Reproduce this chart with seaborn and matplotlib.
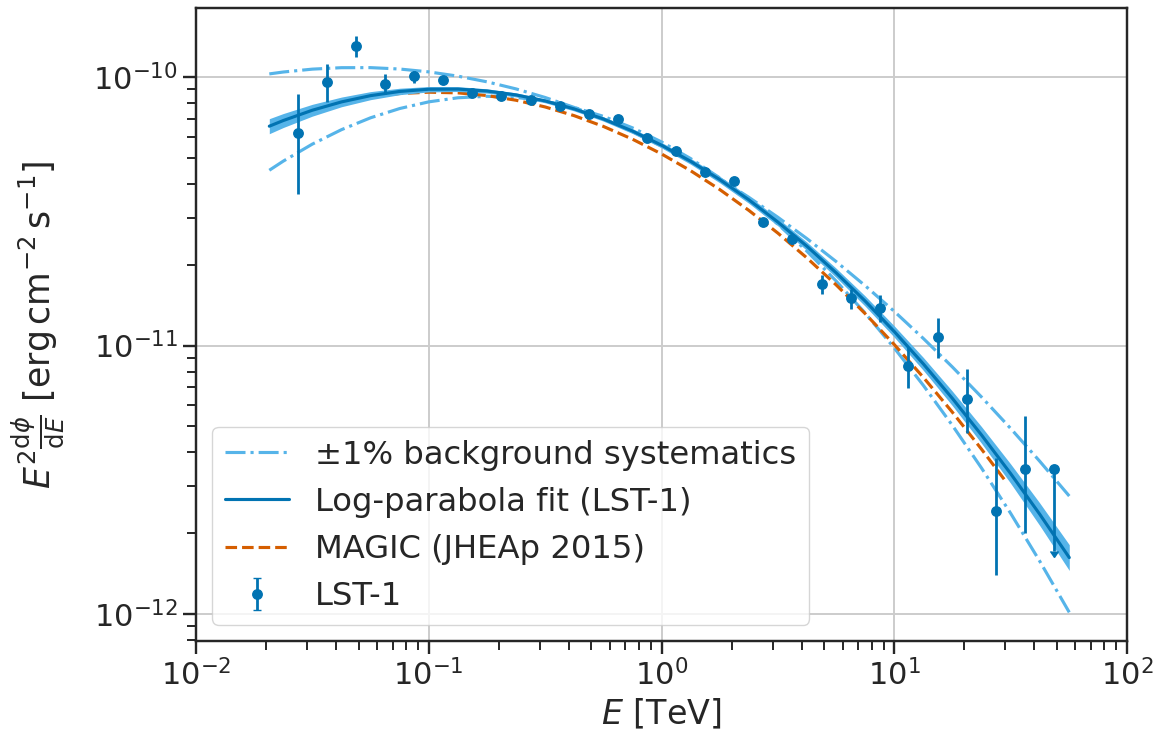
import matplotlib
matplotlib.use("Agg")
import matplotlib.pyplot as plt
import seaborn as sns
import numpy as np

# ---------------- data ----------------
# LST-1 flux points (E in TeV, E^2 dN/dE in erg cm^-2 s^-1)
energy = [0.0274, 0.0365, 0.0487, 0.0649, 0.0866, 0.115, 0.154, 0.205, 0.274,
          0.365, 0.487, 0.649, 0.866, 1.15, 1.54, 2.05, 2.74, 3.65, 4.87,
          6.49, 8.66, 11.5, 15.4, 20.5, 27.4, 36.5, 48.7]
flux = [6.17e-11, 9.56e-11, 1.304e-10, 9.44e-11, 1.006e-10, 9.75e-11, 8.70e-11,
        8.50e-11, 8.19e-11, 7.82e-11, 7.28e-11, 6.98e-11, 5.91e-11, 5.31e-11,
        4.43e-11, 4.10e-11, 2.88e-11, 2.49e-11, 1.69e-11, 1.51e-11, 1.376e-11,
        8.39e-12, 1.073e-11, 6.32e-12, 2.42e-12, 3.46e-12, 3.47e-12]
flux_low = [3.67e-11, 8.09e-11, 1.19e-10, 8.64e-11, 9.52e-11, 9.45e-11, 8.55e-11,
            8.40e-11, 8.10e-11, 7.74e-11, 7.20e-11, 6.88e-11, 5.82e-11, 5.21e-11,
            4.33e-11, 3.99e-11, 2.80e-11, 2.40e-11, 1.56e-11, 1.37e-11, 1.227e-11,
            6.93e-12, 8.96e-12, 4.71e-12, 1.40e-12, 2.01e-12, 1.72e-12]
flux_high = [8.64e-11, 1.115e-10, 1.42e-10, 1.03e-10, 1.056e-10, 1.005e-10, 8.85e-11,
             8.60e-11, 8.28e-11, 7.90e-11, 7.36e-11, 7.08e-11, 6.00e-11, 5.41e-11,
             4.53e-11, 4.21e-11, 2.96e-11, 2.58e-11, 1.83e-11, 1.62e-11, 1.54e-11,
             9.90e-12, 1.262e-11, 8.15e-12, 3.80e-12, 5.46e-12, 3.47e-12]
upper_limit = [False] * 26 + [True]

curve_energy = [0.02065, 0.02371, 0.03162, 0.04217, 0.05623, 0.07499, 0.1, 0.1334,
                0.1778, 0.2371, 0.3162, 0.4217, 0.5623, 0.7499, 1.0, 1.334, 1.778,
                2.371, 3.162, 4.217, 5.623, 7.499, 10.0, 13.34, 17.78, 23.71,
                31.62, 42.17, 56.49]
fit_flux = [6.566e-11, 6.893e-11, 7.531e-11, 8.087e-11, 8.534e-11, 8.846e-11,
            9.016e-11, 9.028e-11, 8.882e-11, 8.588e-11, 8.157e-11, 7.615e-11,
            6.987e-11, 6.300e-11, 5.580e-11, 4.859e-11, 4.156e-11, 3.494e-11,
            2.885e-11, 2.343e-11, 1.868e-11, 1.465e-11, 1.128e-11, 8.540e-12,
            6.352e-12, 4.643e-12, 3.334e-12, 2.353e-12, 1.622e-12]
band_halfwidth_dex = [0.028, 0.026, 0.022, 0.018, 0.015, 0.012, 0.010, 0.009,
                      0.008, 0.0075, 0.007, 0.0075, 0.008, 0.009, 0.010, 0.011,
                      0.012, 0.013, 0.014, 0.0155, 0.017, 0.019, 0.021, 0.024,
                      0.027, 0.031, 0.036, 0.042, 0.048]
sys_plus = [1.0283e-10, 1.0452e-10, 1.0713e-10, 1.0847e-10, 1.0852e-10, 1.0723e-10,
            1.0464e-10, 1.0088e-10, 9.609e-11, 9.042e-11, 8.401e-11, 7.713e-11,
            6.995e-11, 6.265e-11, 5.543e-11, 4.846e-11, 4.184e-11, 3.569e-11,
            3.006e-11, 2.502e-11, 2.057e-11, 1.671e-11, 1.341e-11, 1.0624e-11,
            8.318e-12, 6.431e-12, 4.912e-12, 3.707e-12, 2.750e-12]
sys_minus = [4.499e-11, 4.866e-11, 5.632e-11, 6.374e-11, 7.057e-11, 7.640e-11,
             8.091e-11, 8.379e-11, 8.486e-11, 8.406e-11, 8.142e-11, 7.713e-11,
             7.147e-11, 6.476e-11, 5.738e-11, 4.974e-11, 4.216e-11, 3.494e-11,
             2.832e-11, 2.246e-11, 1.741e-11, 1.321e-11, 9.795e-12, 7.103e-12,
             5.039e-12, 3.496e-12, 2.372e-12, 1.573e-12, 1.014e-12]
magic_energy = [0.05, 0.05623, 0.07499, 0.1, 0.1334, 0.1778, 0.2371, 0.3162,
                0.4217, 0.5623, 0.7499, 1.0, 1.334, 1.778, 2.371, 3.162, 4.217,
                5.623, 7.499, 10.0, 13.34, 17.78, 23.71, 30.0]
magic_flux = [8.304e-11, 8.443e-11, 8.690e-11, 8.790e-11, 8.740e-11, 8.541e-11,
              8.204e-11, 7.745e-11, 7.186e-11, 6.555e-11, 5.875e-11, 5.176e-11,
              4.481e-11, 3.815e-11, 3.190e-11, 2.624e-11, 2.120e-11, 1.684e-11,
              1.315e-11, 1.009e-11, 7.610e-12, 5.642e-12, 4.111e-12, 3.134e-12]

labels = ["±1% background systematics", "Log-parabola fit (LST-1)",
          "MAGIC (JHEAp 2015)", "LST-1"]
x_ticks = [1e-2, 1e-1, 1e0, 1e1, 1e2]
y_ticks = [1e-12, 1e-11, 1e-10]

# ---------------- styling ----------------
sns.set_theme(style="ticks")
plt.rcParams["font.family"] = ["DejaVu Sans"]
plt.rcParams["mathtext.fontset"] = "dejavusans"
plt.rcParams.update({
    "axes.edgecolor": "0.15",
    "axes.linewidth": 1.75,
    "text.color": "0.15",
    "axes.labelcolor": "0.15",
    "xtick.color": "0.15",
    "ytick.color": "0.15",
    "xtick.major.size": 9.4, "ytick.major.size": 9.4,
    "xtick.minor.size": 6.6, "ytick.minor.size": 6.6,
    "xtick.major.width": 1.7, "ytick.major.width": 1.7,
    "xtick.minor.width": 1.4, "ytick.minor.width": 1.4,
    "xtick.labelsize": 22, "ytick.labelsize": 22,
    "axes.labelsize": 24,
    "legend.fontsize": 23.2,
})

pal = sns.color_palette("colorblind")
c_dark, c_orange, c_light = pal[0], pal[3], pal[9]

fig, ax = plt.subplots(figsize=(11.53, 7.45), dpi=100)
fig.subplots_adjust(left=0.1700, right=0.97745, bottom=0.1396, top=0.98926)
ax.set_xscale("log")
ax.set_yscale("log")

sns.lineplot(x=curve_energy, y=sys_plus, ax=ax, color=c_light, lw=2.25,
             linestyle="-.", estimator=None, sort=False, label=labels[0], zorder=2)
sns.lineplot(x=curve_energy, y=sys_minus, ax=ax, color=c_light, lw=2.25,
             linestyle="-.", estimator=None, sort=False, label="_nolegend_", zorder=2)
sns.lineplot(x=magic_energy, y=magic_flux, ax=ax, color=c_orange, lw=2.25,
             linestyle="--", estimator=None, sort=False, label=labels[2], zorder=2.2)

fit_arr = np.array(fit_flux)
hw = np.array(band_halfwidth_dex)
ax.fill_between(curve_energy, fit_arr * 10 ** (-hw), fit_arr * 10 ** hw,
                color=c_light, lw=0, zorder=2.5)
sns.lineplot(x=curve_energy, y=fit_flux, ax=ax, color=c_dark, lw=2.25,
             linestyle="-", estimator=None, sort=False, label=labels[1], zorder=3)

flux_arr = np.array(flux)
yerr = [flux_arr - np.array(flux_low), np.array(flux_high) - flux_arr]
ax.errorbar(energy, flux, yerr=yerr, uplims=upper_limit, fmt="o",
            color=c_dark, ms=6.8, elinewidth=2.0, capsize=0,
            label=labels[3], zorder=4)

ax.set_xlim(1e-2, 1e2)
ax.set_ylim(7.93e-13, 1.81e-10)
ax.set_xticks(x_ticks)
ax.set_yticks(y_ticks)
ax.grid(True, which="major", color="0.8", lw=1.4)
ax.set_axisbelow(True)

ax.set_xlabel(r"$E$ [TeV]")
ax.set_ylabel(r"$E^2\frac{\mathrm{d}\phi}{\mathrm{d}E}$ [$\mathrm{erg\,cm^{-2}\,s^{-1}}$]",
              fontsize=25)
ax.yaxis.set_label_coords(-0.1386, 0.5)

handles, labs = ax.get_legend_handles_labels()
hmap = dict(zip(labs, handles))
ax.legend([hmap[l] for l in labels], labels, loc="lower left",
          framealpha=0.8, edgecolor="0.8", fancybox=True, labelspacing=0.5)

fig.savefig("out.png", dpi=100)
